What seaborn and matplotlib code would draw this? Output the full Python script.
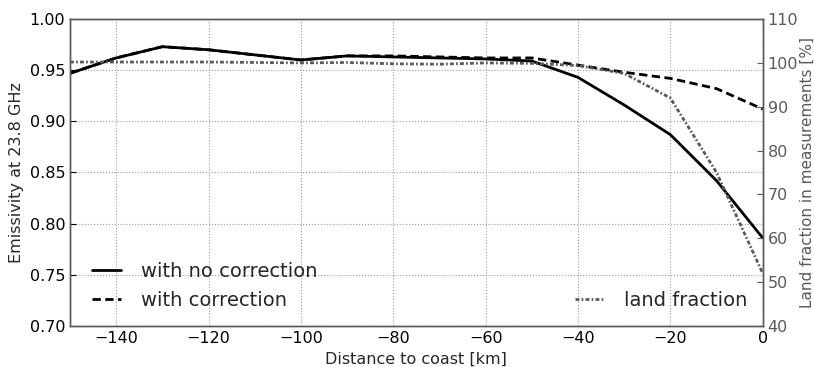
import numpy as np
import pandas as pd
import matplotlib
matplotlib.use("Agg")
import matplotlib.pyplot as plt
import seaborn as sns

# --- data ---
distance = [-150, -140, -130, -120, -110, -100, -90, -80, -70, -60, -50, -40, -30, -20, -10, 0]
emis_no_corr = [0.947, 0.962, 0.973, 0.970, 0.965, 0.960, 0.964, 0.963, 0.962, 0.961, 0.959, 0.943,
                0.916, 0.887, 0.842, 0.786]
emis_corr = [0.947, 0.962, 0.973, 0.970, 0.965, 0.960, 0.964, 0.964, 0.963, 0.962, 0.962, 0.955,
             0.948, 0.942, 0.932, 0.912]
land_frac = [100.2, 100.2, 100.2, 100.2, 100.1, 100.0, 100.1, 99.8, 99.7, 100.0, 99.9, 99.4,
             97.6, 92.0, 75.0, 52.0]

df = pd.DataFrame({"dist": distance, "no_corr": emis_no_corr,
                   "corr": emis_corr, "land": land_frac})

sns.set_style("white")
plt.rcParams["font.family"] = ["DejaVu Sans"]

fig = plt.figure(figsize=(8.14, 3.67), dpi=100)
ax = fig.add_axes([0.086, 0.112, 0.851, 0.836])
ax2 = ax.twinx()

sns.lineplot(data=df, x="dist", y="no_corr", ax=ax, color="black", lw=2,
             label="with no correction")
sns.lineplot(data=df, x="dist", y="corr", ax=ax, color="black", lw=2,
             label="with correction")
sns.lineplot(data=df, x="dist", y="land", ax=ax2, color="0.35", lw=2,
             label="land fraction")
ax.lines[1].set_dashes([3, 1.6])
ax2.lines[0].set_dashes([1.4, 0.8, 0.6, 0.8])

ax.set_xlim(-150, 0)
ax.set_ylim(0.70, 1.00)
ax2.set_ylim(40, 110)
ax.set_xticks(np.arange(-140, 1, 20))
ax.set_yticks(np.arange(0.70, 1.001, 0.05))
ax.set_yticklabels([f"{v:.2f}" for v in np.arange(0.70, 1.001, 0.05)])
ax2.set_yticks(np.arange(40, 111, 10))

ax.grid(True, linestyle=":", color="0.6", lw=0.8)
ax.set_xlabel("Distance to coast [km]", fontsize=11.5)
ax.set_ylabel("Emissivity at 23.8 GHz", fontsize=11.5)
ax2.set_ylabel("Land fraction in measurements [%]", fontsize=11, color="0.35",
               labelpad=1)
ax.tick_params(labelsize=11.5, colors="black", direction="in", length=4)
ax2.tick_params(labelsize=11.5, colors="0.35", direction="in", length=4)

for a in (ax, ax2):
    for s in a.spines.values():
        s.set_color("0.35")
        s.set_linewidth(1)

ax.legend(loc="lower left", frameon=False, fontsize=14, handlelength=1.5,
          handletextpad=1.0, borderaxespad=0.3, bbox_to_anchor=(0.012, 0.008))
ax2.legend(loc="lower right", frameon=False, fontsize=14, handlelength=1.5,
           handletextpad=1.0, borderaxespad=0.3, bbox_to_anchor=(0.997, 0.008))

fig.savefig("out.png", dpi=100)
